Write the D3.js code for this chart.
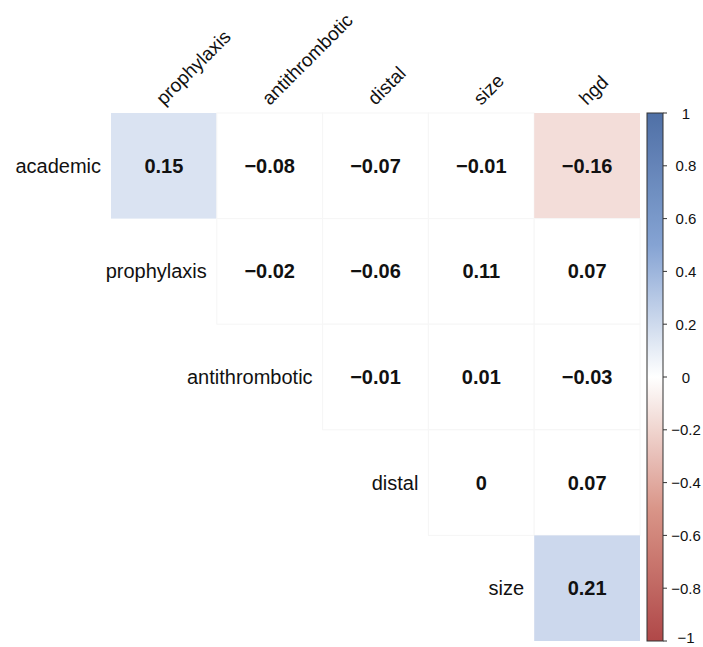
<!DOCTYPE html>
<html>
<head>
<meta charset="utf-8">
<script src="https://cdn.jsdelivr.net/npm/d3@7"></script>
<style>
  body { margin: 0; background: #fff; }
  text { font-family: "Liberation Sans", Arial, Helvetica, sans-serif; }
</style>
</head>
<body>
<div id="corr_plot"></div>
<script>
// variables of the upper triangle
var rowVars = ["academic", "prophylaxis", "antithrombotic", "distal", "size"];
var colVars = ["prophylaxis", "antithrombotic", "distal", "size", "hgd"];
// correlations, null = lower triangle (not drawn)
var corrRows = [
    [0.15, -0.08, -0.07, -0.01, -0.16],
    [null, -0.02, -0.06, 0.11, 0.07],
    [null, null, -0.01, 0.01, -0.03],
    [null, null, null, 0, 0.07],
    [null, null, null, null, 0.21]
];
// only significant cells get a fill colour
var sigRows = [
    [true, false, false, false, true],
    [false, false, false, false, false],
    [false, false, false, false, false],
    [false, false, false, false, false],
    [false, false, false, false, true]
];
var legendTicks = [1, 0.8, 0.6, 0.4, 0.2, 0, -0.2, -0.4, -0.6, -0.8, -1];
var palette = ["#B04848", "#D99588", "#FFFFFF", "#85A3D3", "#4F70A6"];

var width = 703, height = 647;
var grid = {left: 111, top: 113, right: 640, bottom: 641};

var svg = d3.select("#corr_plot")
            .append("svg")
            .attr("width", width)
            .attr("height", height);

var xScale = d3.scaleBand()
               .domain(colVars)
               .range([grid.left, grid.right]);
var yScale = d3.scaleBand()
               .domain(rowVars)
               .range([grid.top, grid.bottom]);
var colormap = d3.scaleLinear()
                 .domain([-1, -0.5, 0, 0.5, 1])
                 .range(palette);
var fmt = d3.format(".2f");

var cells = [];
corrRows.forEach(function(r, i) {
    r.forEach(function(v, j) {
        if (v !== null) cells.push({row: rowVars[i], col: colVars[j], value: v, sig: sigRows[i][j]});
    });
});

// cells
svg.append("g")
   .selectAll("rect")
   .data(cells)
   .enter()
   .append("rect")
   .attr("x", d => xScale(d.col))
   .attr("y", d => yScale(d.row))
   .attr("width", xScale.bandwidth())
   .attr("height", yScale.bandwidth())
   .attr("fill", d => d.sig ? colormap(d.value) : "#fff")
   .attr("stroke", d => d.sig ? "none" : "#f6f6f6")
   .attr("stroke-width", 1);

// values
svg.append("g")
   .selectAll("text")
   .data(cells)
   .enter()
   .append("text")
   .attr("x", d => xScale(d.col) + xScale.bandwidth() / 2)
   .attr("y", d => yScale(d.row) + yScale.bandwidth() / 2)
   .attr("text-anchor", "middle")
   .attr("dominant-baseline", "central")
   .attr("font-size", "20px")
   .attr("font-weight", "bold")
   .attr("fill", "#111")
   .text(d => d.value === 0 ? "0" : fmt(d.value));

// row labels, just left of the first cell in each row
svg.append("g")
   .selectAll("text")
   .data(rowVars)
   .enter()
   .append("text")
   .attr("x", (d, i) => xScale(colVars[i]) - 10)
   .attr("y", d => yScale(d) + yScale.bandwidth() / 2)
   .attr("text-anchor", "end")
   .attr("dominant-baseline", "central")
   .attr("font-size", "20px")
   .attr("fill", "#111")
   .text(d => d);

// column labels, rotated 45
svg.append("g")
   .selectAll("text")
   .data(colVars)
   .enter()
   .append("text")
   .attr("transform", d => "translate(" + (xScale(d) + xScale.bandwidth() / 2) + "," + (grid.top - 7) + ") rotate(-45)")
   .attr("text-anchor", "start")
   .attr("font-size", "19px")
   .attr("fill", "#111")
   .text(d => d);

// colour legend
var legendX = 647, legendW = 16;
var legendScale = d3.scaleLinear()
                    .domain([-1, 1])
                    .range([grid.bottom, grid.top]);
var defs = svg.append("defs");
var grad = defs.append("linearGradient")
               .attr("id", "corrGrad")
               .attr("x1", "0").attr("y1", "1")
               .attr("x2", "0").attr("y2", "0");
grad.selectAll("stop")
    .data(d3.range(-1, 1.0001, 0.1))
    .enter()
    .append("stop")
    .attr("offset", d => ((d + 1) / 2 * 100) + "%")
    .attr("stop-color", d => colormap(d));

svg.append("rect")
   .attr("x", legendX)
   .attr("y", grid.top)
   .attr("width", legendW)
   .attr("height", grid.bottom - grid.top)
   .attr("fill", "url(#corrGrad)")
   .attr("stroke", "#333")
   .attr("stroke-width", 1);

var lg = svg.append("g");
lg.selectAll("line")
  .data(legendTicks)
  .enter()
  .append("line")
  .attr("x1", legendX + legendW)
  .attr("x2", legendX + legendW + 4)
  .attr("y1", d => legendScale(d))
  .attr("y2", d => legendScale(d))
  .attr("stroke", "#333")
  .attr("stroke-width", 1);
lg.selectAll("text")
  .data(legendTicks)
  .enter()
  .append("text")
  .attr("x", 686)
  // keep the bottom label inside the picture
  .attr("y", d => Math.min(legendScale(d), height - 10))
  .attr("text-anchor", "middle")
  .attr("dominant-baseline", "central")
  .attr("font-size", "15px")
  .attr("fill", "#111")
  .text(d => d3.format("")(d));
</script>
</body>
</html>
